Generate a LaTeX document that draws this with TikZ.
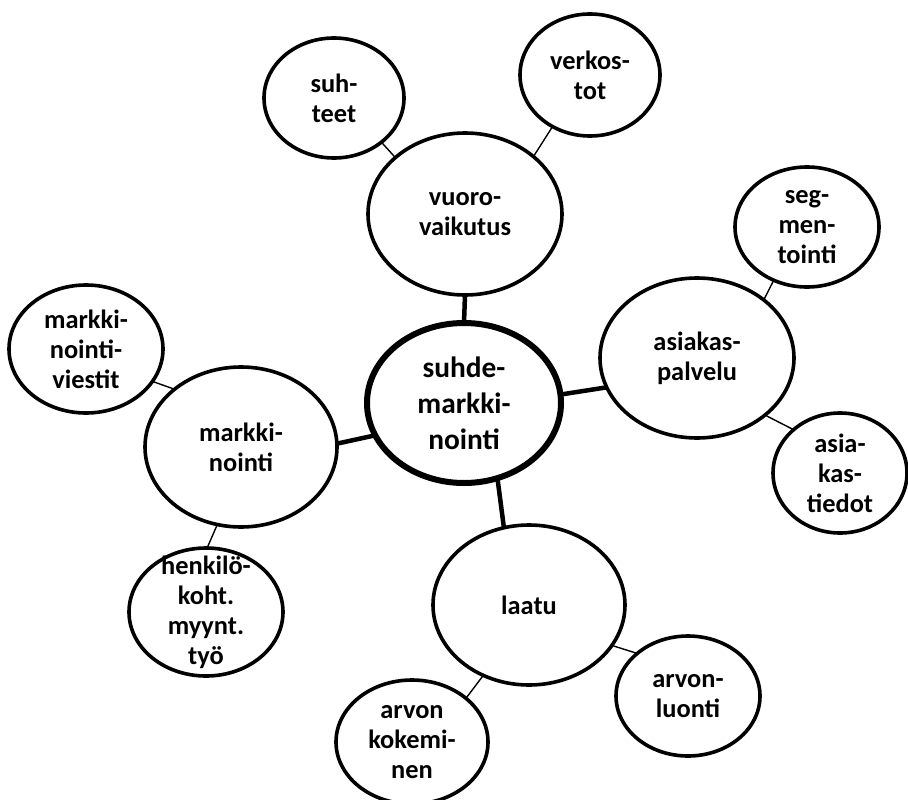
\documentclass[tikz,border=0pt]{standalone}
\usepackage{fontspec}
\setmainfont{Carlito}
\usetikzlibrary{shapes.geometric}
\begin{document}
\begin{tikzpicture}[x=1bp,y=-1bp,
  bubble/.style={draw, ellipse, line width=3.6bp, inner sep=0pt, outer sep=0pt},
  hub/.style={bubble, line width=6bp},
  word/.style={align=center, inner sep=0pt, font=\fontsize{26.5}{30}\selectfont\bfseries},
  hubword/.style={align=center, inner sep=0pt, font=\fontsize{29.5}{36}\selectfont\bfseries},
  spoke/.style={line width=4.5bp},
  twig/.style={line width=1.4bp}]
\useasboundingbox (0,0) rectangle (908,800);

% bubbles
\node[hub,    minimum width=194bp, minimum height=160bp] (c)      at (464,403) {};
\node[bubble, minimum width=194bp, minimum height=162bp] (vuoro)  at (465,214) {};
\node[bubble, minimum width=140bp, minimum height=120bp] (suh)    at (334,98)  {};
\node[bubble, minimum width=140bp, minimum height=122bp] (verk)   at (590,75)  {};
\node[bubble, minimum width=194bp, minimum height=160bp] (asiak)  at (697,358) {};
\node[bubble, minimum width=144bp, minimum height=120bp] (seg)    at (807,227) {};
\node[bubble, minimum width=134bp, minimum height=120bp] (tied)   at (840,473) {};
\node[bubble, minimum width=192bp, minimum height=160bp] (markki) at (241,447) {};
\node[bubble, minimum width=154bp, minimum height=128bp] (viest)  at (86,349)  {};
\node[bubble, minimum width=154bp, minimum height=128bp] (henk)   at (206,612) {};
\node[bubble, minimum width=192bp, minimum height=160bp] (laatu)  at (529,605) {};
\node[bubble, minimum width=144bp, minimum height=120bp] (luonti) at (688,696) {};
\node[bubble, minimum width=152bp, minimum height=124bp] (kokem)  at (412,742) {};

% texts
\node[hubword] (c-t)      at (c)      {suhde-\\markki-\\nointi};
\node[word]    (vuoro-t)  at (vuoro)  {vuoro-\\vaikutus};
\node[word]    (suh-t)    at (suh)    {suh-\\teet};
\node[word]    (verk-t)   at (verk)   {verkos-\\tot};
\node[word]    (asiak-t)  at (asiak)  {asiakas-\\palvelu};
\node[word]    (seg-t)    at (seg)    {seg-\\men-\\tointi};
\node[word]    (tied-t)   at (tied)   {asia-\\kas-\\tiedot};
\node[word]    (markki-t) at (markki) {markki-\\nointi};
\node[word]    (viest-t)  at (viest)  {markki-\\nointi-\\viestit};
\node[word]    (henk-t)   at (henk)   {henkilö-\\koht.\\myynt.\\työ};
\node[word]    (laatu-t)  at (laatu)  {laatu};
\node[word]    (luonti-t) at (luonti) {arvon-\\luonti};
\node[word]    (kokem-t)  at (kokem)  {arvon\\kokemi-\\nen};

% main spokes
\draw[spoke] (c.north) -- (vuoro.south);
\draw[spoke] (c.200) -- (markki.2);
\draw[spoke] (c.5) -- (asiak.198);
\draw[spoke] (c.-66) -- (laatu.108);

% secondary links
\draw[twig] (vuoro.141) -- (suh.-43);
\draw[twig] (vuoro.40) -- (verk.234);
\draw[twig] (asiak.41) -- (seg.238);
\draw[twig] (asiak.-40) -- (tied.137);
\draw[twig] (markki.139) -- (viest.-26);
\draw[twig] (markki.253) -- (henk.89);
\draw[twig] (laatu.-26) -- (luonti.140);
\draw[twig] (laatu.237) -- (kokem.39);
\end{tikzpicture}
\end{document}
